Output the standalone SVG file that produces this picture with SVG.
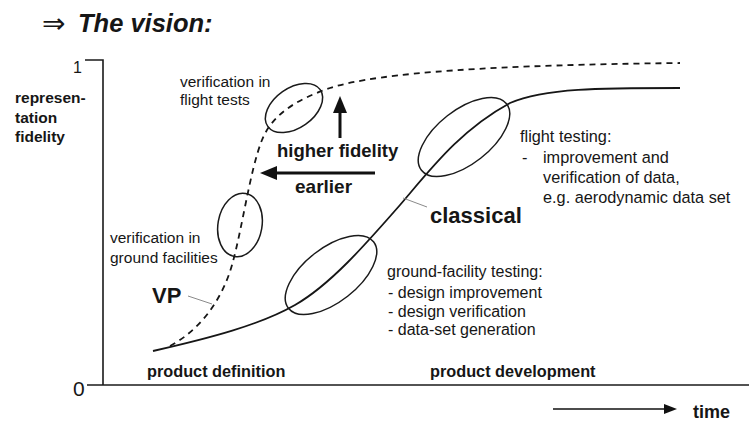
<svg xmlns="http://www.w3.org/2000/svg" width="749" height="421" viewBox="0 0 749 421">
  <style>
    .t { font-family: "Liberation Sans", Arial, sans-serif; fill: #161616; }
    .sym { font-family: "DejaVu Sans", sans-serif; fill: #161616; }
    .b { font-weight: bold; }
    .ax { stroke: #1a1a1a; stroke-width: 1.6; fill: none; }
    .curve { stroke: #161616; stroke-width: 1.8; fill: none; }
    .dash { stroke-dasharray: 6 5; }
    .ring { stroke: #1a1a1a; stroke-width: 1.5; fill: none; }
    .lead { stroke: #8a8a8a; stroke-width: 1; fill: none; }
    .shaft { stroke: #111; fill: none; }
    .head { fill: #111; stroke: none; }
  </style>
  <rect width="749" height="421" fill="#ffffff"/>

  <!-- title -->
  <g id="title">
    <text class="sym" x="42" y="33" font-size="28">⇒</text>
    <text class="t b" x="78" y="32" font-size="25.5" font-style="italic">The vision:</text>
  </g>

  <!-- axes -->
  <g id="axes">
    <path class="ax" d="M85,60 H103 V385"/>
    <path class="ax" d="M87,385 H749"/>
    <text class="t" x="73" y="73" font-size="16">1</text>
    <text class="t" x="73" y="395.5" font-size="21">0</text>
    <text class="t b" font-size="15.5"><tspan x="15" y="103">represen-</tspan><tspan x="15" y="123">tation</tspan><tspan x="15" y="142">fidelity</tspan></text>
    <text class="t b" x="147" y="377" font-size="16.3">product definition</text>
    <text class="t b" x="430" y="377" font-size="16.3">product development</text>
  </g>

  <!-- curves -->
  <g id="connectors">
    <path id="classical-curve" class="curve" d="M153,351 C210,338 260,325 295,305 C330,285 365,245 400,205 C430,170 460,130 510,103 C545,88 600,88 680,88"/>
    <path id="vp-curve" class="curve dash" d="M170,346 C200,330 222,300 232,265 C242,230 250,170 262,140 C272,115 295,100 330,88 C380,72 500,65 680,63"/>
    <path class="lead" d="M188,296 L212,304"/>
    <path class="lead" d="M403,198 L427,207"/>
    <!-- higher fidelity arrow -->
    <path class="shaft" stroke-width="3" d="M340,138 V110"/>
    <path class="head" d="M340,96 L347,113 L333,113 Z"/>
    <!-- earlier arrow -->
    <path class="shaft" stroke-width="3" d="M375,173 H274"/>
    <path class="head" d="M260,173 L277,166 L277,180 Z"/>
    <!-- time arrow -->
    <path class="shaft" stroke-width="1.6" d="M553,409 H666"/>
    <path class="head" d="M677,409 L664,404 L664,414 Z"/>
  </g>

  <!-- VP verification regions -->
  <g id="vp-flight">
    <ellipse class="ring" cx="294" cy="108" rx="32" ry="20" transform="rotate(-35 294 108)"/>
    <text class="t" font-size="15.5"><tspan x="180" y="87">verification in</tspan><tspan x="180" y="105">flight tests</tspan></text>
  </g>
  <g id="vp-ground">
    <ellipse class="ring" cx="240" cy="225" rx="22" ry="32" transform="rotate(10 240 225)"/>
    <text class="t" font-size="15.5"><tspan x="110" y="243">verification in</tspan><tspan x="110" y="263">ground facilities</tspan></text>
  </g>
  <g id="vp-label">
    <text class="t b" x="152" y="303" font-size="22">VP</text>
  </g>

  <!-- classical testing regions -->
  <g id="classical-ground">
    <ellipse class="ring" cx="331" cy="275" rx="54" ry="27" transform="rotate(-38 331 275)"/>
    <text class="t" font-size="16"><tspan x="387" y="277">ground-facility testing:</tspan><tspan x="388" y="298">-  design improvement</tspan><tspan x="388" y="317">-  design verification</tspan><tspan x="388" y="335">-  data-set generation</tspan></text>
  </g>
  <g id="classical-flight">
    <ellipse class="ring" cx="464" cy="137" rx="54" ry="27" transform="rotate(-38 464 137)"/>
    <text class="t" font-size="16.3"><tspan x="520" y="142">flight testing:</tspan><tspan x="522" y="163">-</tspan><tspan x="543" y="163">improvement and</tspan><tspan x="543" y="183">verification of data,</tspan><tspan x="543" y="203">e.g. aerodynamic data set</tspan></text>
  </g>
  <g id="classical-label">
    <text class="t b" x="430" y="223" font-size="22">classical</text>
  </g>

  <!-- shift annotations -->
  <g id="higher-fidelity">
    <text class="t b" x="277" y="157" font-size="18.5">higher fidelity</text>
  </g>
  <g id="earlier">
    <text class="t b" x="295" y="193" font-size="19">earlier</text>
  </g>
  <g id="time">
    <text class="t b" x="693" y="418" font-size="18">time</text>
  </g>
</svg>
